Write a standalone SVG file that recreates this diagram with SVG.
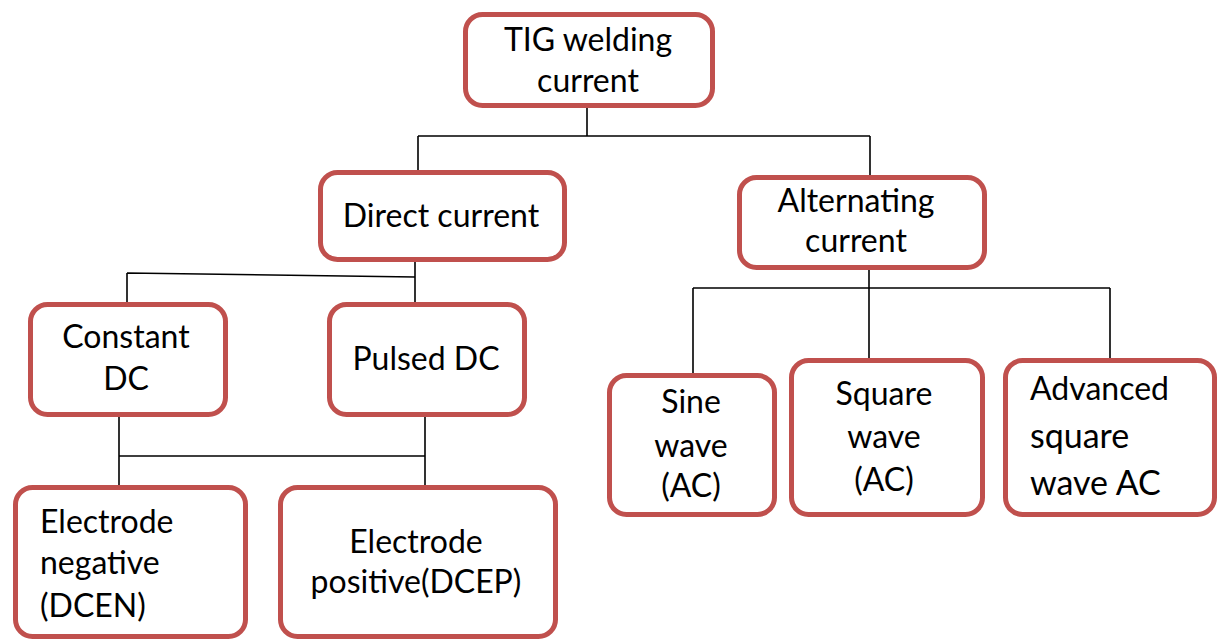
<svg xmlns="http://www.w3.org/2000/svg" width="1225" height="639" viewBox="0 0 1225 639">
<style>
.box{fill:#fff;stroke:#C0504D;stroke-width:5}
.t{font-family:Lato,"Open Sans","Liberation Sans",sans-serif;font-size:32px;fill:#000;text-anchor:middle}
.l{text-anchor:start}
.big{font-size:34px}
.c{fill:none;stroke:#000;stroke-width:1.6}
</style>
<rect width="1225" height="639" fill="#fff"/>
<g id="connectors">
<path class="c" d="M587 108V136M418 136H870M418 136V170M870 136V175"/>
<path class="c" d="M415 262V302M127 273L415 277M127 273V302"/>
<path class="c" d="M119 417V485M425 417V485M119 456H425"/>
<path class="c" d="M869 270V358M693 288H1110M693 288V373M1110 288V358"/>
</g>
<g id="tig">
<rect class="box" x="465.5" y="14.5" width="247" height="91" rx="17"/>
<text class="t" x="588" y="51">TIG welding</text>
<text class="t" x="588" y="92">current</text>
</g>
<g id="direct">
<rect class="box" x="320.5" y="172.5" width="244" height="87" rx="17"/>
<text class="t" x="441" y="227">Direct current</text>
</g>
<g id="alternating">
<rect class="box" x="739.5" y="177.5" width="245" height="90" rx="17"/>
<text class="t" x="856" y="212">Alternating</text>
<text class="t" x="856" y="252">current</text>
</g>
<g id="constant">
<rect class="box" x="30.5" y="304.5" width="195" height="110" rx="17"/>
<text class="t" x="126" y="348">Constant</text>
<text class="t" x="126" y="390">DC</text>
</g>
<g id="pulsed">
<rect class="box" x="329.5" y="304.5" width="195" height="110" rx="17"/>
<text class="t" x="426" y="370">Pulsed DC</text>
</g>
<g id="dcen">
<rect class="box" x="15.5" y="487.5" width="230" height="149" rx="17"/>
<text class="t l" x="40" y="533">Electrode</text>
<text class="t l" x="40" y="574">negative</text>
<text class="t l" x="40" y="617">(DCEN)</text>
</g>
<g id="dcep">
<rect class="box" x="280.5" y="487.5" width="275" height="149" rx="17"/>
<text class="t" x="416" y="553">Electrode</text>
<text class="t" x="416" y="593">positive(DCEP)</text>
</g>
<g id="sine">
<rect class="box" x="609.5" y="375.5" width="165" height="139" rx="17"/>
<text class="t" x="691" y="413">Sine</text>
<text class="t" x="691" y="457">wave</text>
<text class="t" x="691" y="497">(AC)</text>
</g>
<g id="square">
<rect class="box" x="791.5" y="360.5" width="191" height="154" rx="17"/>
<text class="t" x="884" y="405">Square</text>
<text class="t" x="884" y="448">wave</text>
<text class="t" x="884" y="491">(AC)</text>
</g>
<g id="advanced">
<rect class="box" x="1005.5" y="360.5" width="209" height="154" rx="17"/>
<text class="t l" x="1030" y="400">Advanced</text>
<text class="t l big" x="1030" y="448">square</text>
<text class="t l big" x="1030" y="495">wave AC</text>
</g>
</svg>
